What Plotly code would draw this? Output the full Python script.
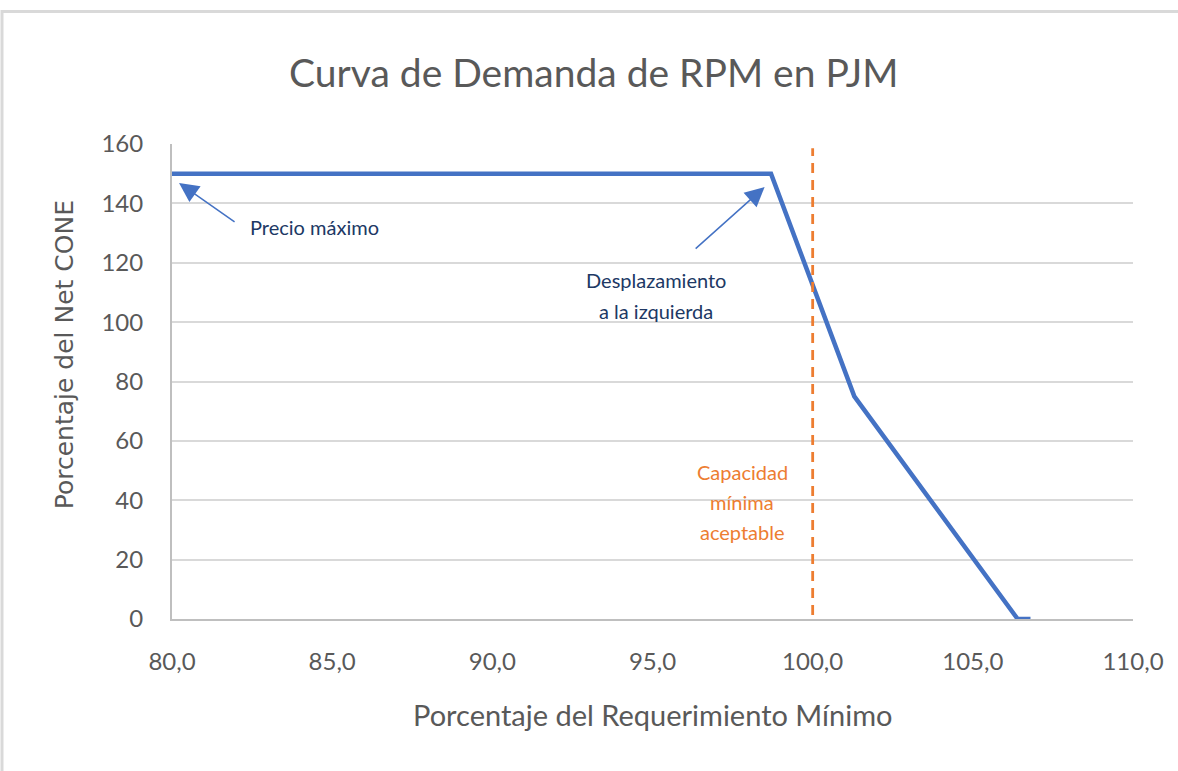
import plotly.graph_objects as go

# ==============================
# Data
# ==============================
x_curve = [80.0, 98.7, 101.3, 106.4, 106.8]   # % of minimum requirement
y_curve = [150, 150, 75, 0, 0]                # % of Net CONE

x_min_cap = 100.0
y_min_cap_span = [-4.4, 158.6]

x_ticks = [80, 85, 90, 95, 100, 105, 110]
y_ticks = [0, 20, 40, 60, 80, 100, 120, 140, 160]

GRAY = "#595959"
GRID = "#d9d9d9"
BLUE = "#4472c4"
ORANGE = "#ed7d31"
NAVY = "#203864"
FONT = "Lato"

fig = go.Figure()

fig.add_trace(go.Scatter(
    x=x_curve, y=y_curve, mode="lines",
    line=dict(color=BLUE, width=4.5),
    showlegend=False, hoverinfo="skip"
))

# minimum acceptable capacity (dashed vertical)
fig.add_trace(go.Scatter(
    x=[x_min_cap, x_min_cap], y=y_min_cap_span, mode="lines",
    line=dict(color=ORANGE, width=2.8, dash="10px,7px"),
    showlegend=False, hoverinfo="skip", cliponaxis=False
))

# arrows
arrow = dict(xref="x", yref="y", axref="x", ayref="y", text="", showarrow=True,
             arrowhead=2, arrowsize=2.6, arrowwidth=1.5, arrowcolor=BLUE, standoff=0)
fig.add_annotation(x=80.22, y=146.9, ax=82.0, ay=133.4, **arrow)
fig.add_annotation(x=98.5, y=145.5, ax=96.3, ay=124.3, **arrow)

# labels
lbl = dict(showarrow=False, xanchor="center", yanchor="middle")
fig.add_annotation(x=84.45, y=132, text="Precio máximo",
                   font=dict(family=FONT, size=20, color=NAVY), **lbl)
fig.add_annotation(x=95.1, y=114.2, text="Desplazamiento",
                   font=dict(family=FONT, size=20, color=NAVY), **lbl)
fig.add_annotation(x=95.1, y=103.7, text="a la izquierda",
                   font=dict(family=FONT, size=20, color=NAVY), **lbl)
for txt, yv in [("Capacidad", 49.5), ("mínima", 39.4), ("aceptable", 29.3)]:
    fig.add_annotation(x=97.8, y=yv, text=txt,
                       font=dict(family=FONT, size=20, color=ORANGE), **lbl)

# axis titles
fig.add_annotation(xref="paper", yref="paper", x=-0.111, y=0.556,
                   text="Porcentaje del Net CONE", textangle=-90,
                   font=dict(family="DejaVu Sans", size=25, color=GRAY), **lbl)
fig.add_annotation(xref="paper", yref="paper", x=0.5, y=-0.202,
                   text="Porcentaje del Requerimiento Mínimo",
                   font=dict(family=FONT, size=29, color=GRAY), **lbl)

# outer frame
fig.add_shape(type="rect", xref="paper", yref="paper",
              x0=-0.1769, x1=1.2, y0=-0.5, y1=1.279,
              line=dict(color=GRID, width=3), layer="below")

fig.update_layout(
    width=1178, height=771,
    margin=dict(l=172, r=45, t=144, b=152),
    paper_bgcolor="white", plot_bgcolor="white",
    separators=",.",
    font=dict(family=FONT, color=GRAY),
    title=dict(text="Curva de Demanda de RPM en PJM",
               x=0.504, xanchor="center", y=0.905, yanchor="middle",
               font=dict(family=FONT, size=39, color=GRAY)),
)

fig.update_xaxes(
    range=[80, 110], tickvals=x_ticks, tickformat=".1f",
    showgrid=False, zeroline=False,
    showline=True, linecolor="#bfbfbf", linewidth=2,
    ticks="", ticklabelstandoff=20, tickfont=dict(size=24, color=GRAY),
)
fig.update_yaxes(
    range=[0, 160], tickvals=y_ticks,
    showgrid=True, gridcolor=GRID, gridwidth=2, zeroline=False,
    showline=True, linecolor="#bfbfbf", linewidth=2,
    ticks="", ticklabelstandoff=22, tickfont=dict(size=24, color=GRAY),
)

fig.write_html("out.html", config={"displayModeBar": False},
               post_script="document.body.style.margin='0';")
